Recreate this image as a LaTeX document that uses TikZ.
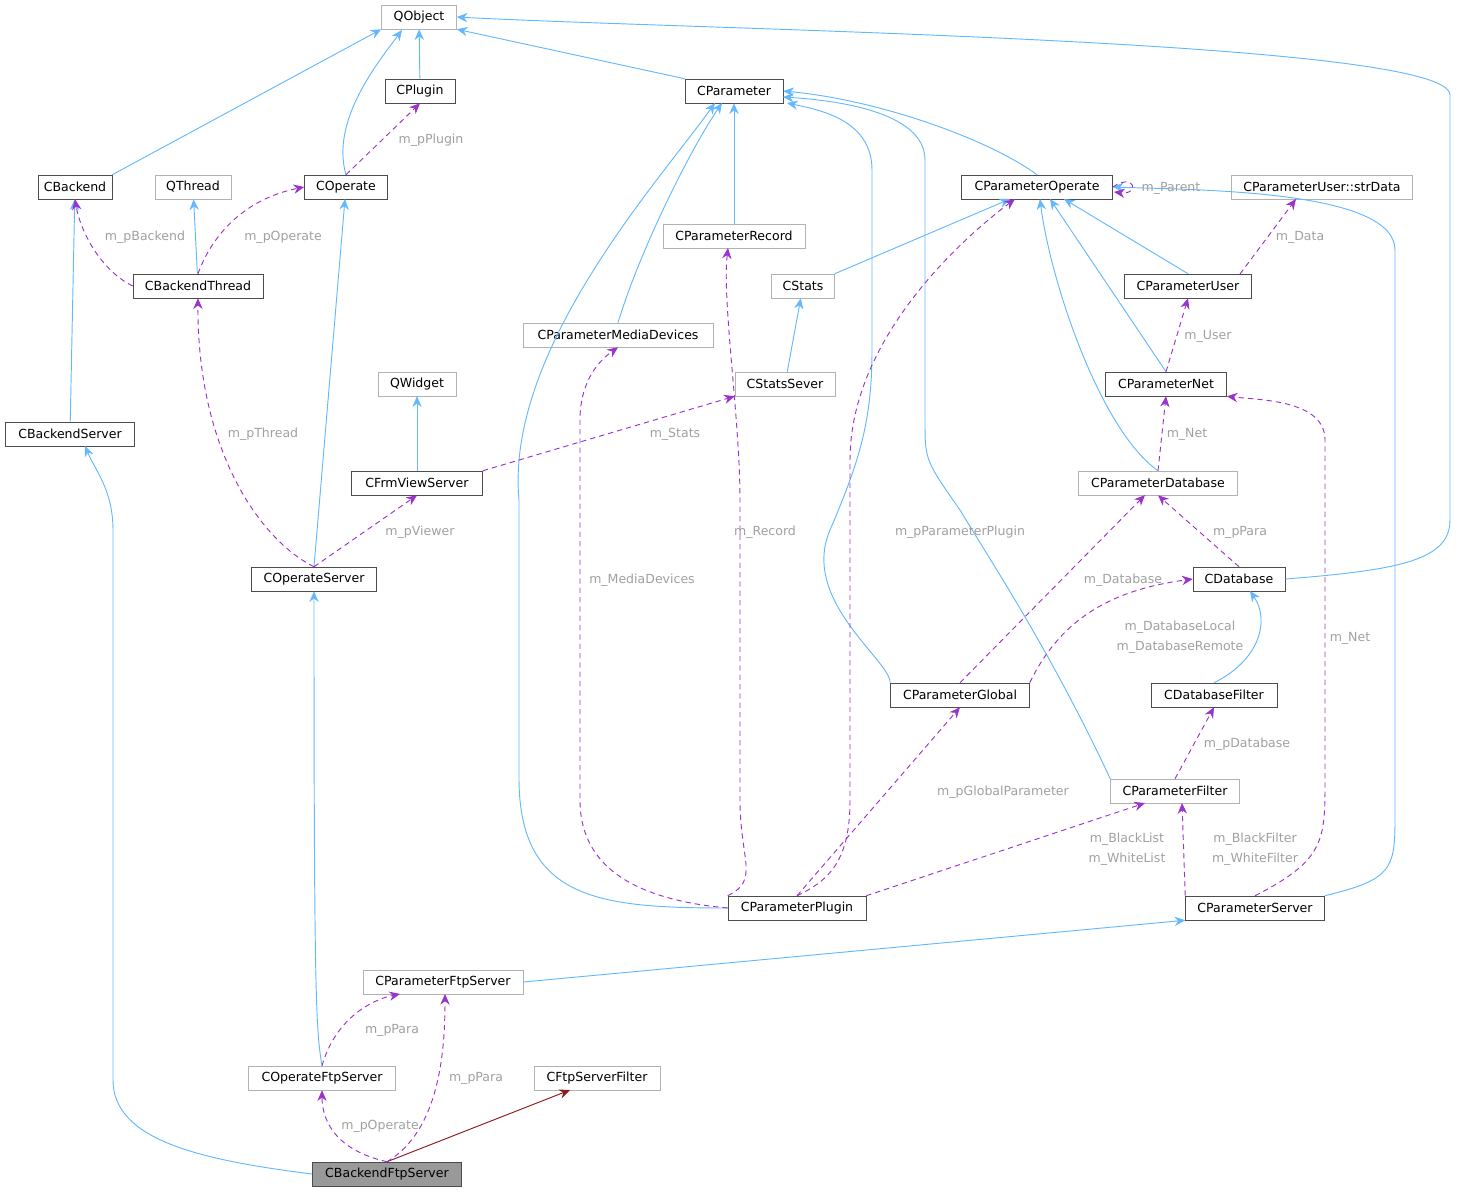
\documentclass[tikz,border=0pt]{standalone}
\usepackage{fontspec}
\setmainfont{DejaVu Sans}
\usetikzlibrary{arrows.meta}
\definecolor{inh}{HTML}{63B8FF}
\definecolor{use}{HTML}{9A32CD}
\definecolor{tmpl}{HTML}{8B1A1A}
\definecolor{lbl}{HTML}{A0A0A0}
\begin{document}
\begin{tikzpicture}[x=0.75pt,y=-0.75pt,
            font=\fontsize{9.4}{11}\selectfont,
            box/.style = {draw=black!70,fill=white,minimum height=18pt,
                inner sep=1pt,minimum width=#1*0.75pt},
            gbox/.style = {box=#1,draw=black!30},
            sel/.style = {box=#1,fill=black!40},
            isa/.style = {draw=inh,line width=0.7pt,-{Stealth[length=8pt,width=7pt]}},
            has/.style = {draw=use,line width=0.7pt,dash pattern=on 4pt off 3pt,-{Stealth[length=8pt,width=7pt]}},
            tpl/.style = {draw=tmpl,line width=0.7pt,-{Stealth[length=8pt,width=7pt]}},
            lab/.style = {text=lbl,align=center,font=\fontsize{9.4}{15}\selectfont}]
            \useasboundingbox (0,0) rectangle (1457,1193);
            % classes
            \node[gbox=75](qobject) at (419,17) {QObject};
            \node[box=70](cplugin) at (420,91) {CPlugin};
            \node[box=98](cparameter) at (734,91) {CParameter};
            \node[box=74](cbackend) at (75,187) {CBackend};
            \node[gbox=76](qthread) at (193,187) {QThread};
            \node[box=83](coperate) at (346,187) {COperate};
            \node[box=151](cparamop) at (1037,187) {CParameterOperate};
            \node[gbox=181](strdata) at (1322,187) {CParameterUser::strData};
            \node[gbox=142](cparamrec) at (734,236) {CParameterRecord};
            \node[box=130](cbackthread) at (198,286) {CBackendThread};
            \node[gbox=63](cstats) at (803,286) {CStats};
            \node[box=127](cparamuser) at (1188,286) {CParameterUser};
            \node[gbox=190](cparammedia) at (618,335) {CParameterMediaDevices};
            \node[gbox=78](qwidget) at (417,384) {QWidget};
            \node[gbox=100](cstatssever) at (785,384) {CStatsSever};
            \node[box=121](cparamnet) at (1166,384) {CParameterNet};
            \node[box=129](cbackserver) at (70,434) {CBackendServer};
            \node[box=131](cfrmview) at (417,483) {CFrmViewServer};
            \node[gbox=159](cparamdb) at (1158,483) {CParameterDatabase};
            \node[box=125](copserver) at (314,579) {COperateServer};
            \node[box=92](cdatabase) at (1239,579) {CDatabase};
            \node[box=139](cparamglobal) at (960,695) {CParameterGlobal};
            \node[box=126](cdbfilter) at (1214,695) {CDatabaseFilter};
            \node[gbox=129](cparamfilter) at (1175,791) {CParameterFilter};
            \node[box=138](cparamplugin) at (797,908) {CParameterPlugin};
            \node[box=139](cparamserver) at (1255,908) {CParameterServer};
            \node[gbox=160](cparamftp) at (443,982) {CParameterFtpServer};
            \node[gbox=147](copftp) at (322,1078) {COperateFtpServer};
            \node[gbox=126](cftpfilter) at (597,1078) {CFtpServerFilter};
            \node[sel=149](cbackftp) at (387,1174) {CBackendFtpServer};
            % inheritance
            \draw[isa] (cplugin) -- (qobject);
            \draw[isa] (cbackend.north east) -- (qobject.south west);
            \draw[isa] (coperate.north) .. controls (330,120) and (380,60) .. (402,30);
            \draw[isa] (cparameter.north west) -- (qobject.south east);
            \draw[isa] (cdatabase.east) .. controls (1400,570) and (1450,560) .. (1450,520)
                -- (1450,95) .. controls (1450,40) and (700,30) .. (qobject.east);
            \draw[isa] (cparamop.north) .. controls (990,140) and (880,100) .. (cparameter.east);
            \draw[isa] (cparamrec) -- (cparameter);
            \draw[isa] (cparammedia.north) .. controls (640,250) and (690,150) .. (722,103);
            \draw[isa] (cparamglobal.north west) .. controls (890,660) and (800,600) .. (830,530)
                .. controls (860,460) and (872,420) .. (872,350) -- (872,170)
                .. controls (872,120) and (820,110) .. (787,103);
            \draw[isa] (cparamfilter.north west) .. controls (1050,650) and (990,560) .. (960,510)
                .. controls (925,460) and (925,460) .. (925,420) -- (925,160)
                .. controls (925,110) and (830,100) .. (783,97);
            \draw[isa] (cparamplugin.west) .. controls (600,908) and (520,900) .. (519,780)
                -- (519,500) .. controls (505,350) and (660,180) .. (715,103);
            \draw[isa] (cbackthread) -- (qthread);
            \draw[isa] (cbackserver) -- (cbackend);
            \draw[isa] (cstats.north east) -- (1010,199);
            \draw[isa] (cstatssever) -- (cstats);
            \draw[isa] (cparamuser.north) -- (1064,199);
            \draw[isa] (cparamnet.north) -- (1050,199);
            \draw[isa] (cparamdb.north) .. controls (1100,430) and (1050,280) .. (1040,199);
            \draw[isa] (cfrmview) -- (qwidget);
            \draw[isa] (copserver.north) -- (345,199);
            \draw[isa] (cdbfilter.north) .. controls (1260,660) and (1270,620) .. (1250,591);
            \draw[isa] (cparamserver.north east) .. controls (1390,880) and (1395,870) .. (1395,820)
                -- (1395,250) .. controls (1395,190) and (1200,190) .. (cparamop.east);
            \draw[isa] (cparamftp.east) -- (cparamserver.south west);
            \draw[isa] (copftp.north) .. controls (316,1030) and (314,1000) .. (copserver.south);
            \draw[isa] (cbackftp.west) .. controls (200,1160) and (113,1140) .. (113,1080)
                -- (113,530) .. controls (113,490) and (95,470) .. (85,446);
            \draw[tpl] (cbackftp.north) -- (570,1090);
            % usage
            \draw[has] (coperate.north) -- (cplugin.south);
            \node[lab] (lplugin) at (431,140) {m\_pPlugin};
            \draw[has] (cbackthread.west) .. controls (100,270) and (80,230) .. (cbackend.south);
            \node[lab] (lbackend) at (145,237) {m\_pBackend};
            \draw[has] (cbackthread.north) .. controls (210,240) and (240,200) .. (coperate.west);
            \node[lab] (loperate) at (283,237) {m\_pOperate};
            \draw[has] (cparamop.east) .. controls (1135,172) and (1140,195) .. (1114,192);
            \node[lab] (lparent) at (1171,188) {m\_Parent};
            \draw[has] (1240,274) -- (1296,199);
            \node[lab] (ldata) at (1300,237) {m\_Data};
            \draw[has] (cparamnet.north) -- (cparamuser.south);
            \node[lab] (luser) at (1208,336) {m\_User};
            \draw[has] (copserver.north) .. controls (260,540) and (197,450) .. (cbackthread.south);
            \node[lab] (lthread) at (263,434) {m\_pThread};
            \draw[has] (cfrmview.north east) -- (cstatssever.south west);
            \node[lab] (lstats) at (675,434) {m\_Stats};
            \draw[has] (copserver.north) -- (cfrmview.south);
            \node[lab] (lviewer) at (420,532) {m\_pViewer};
            \draw[has] (cparamdb.north) -- (cparamnet.south);
            \node[lab] (lnetdb) at (1187,434) {m\_Net};
            \draw[has] (cdatabase.north) -- (cparamdb.south);
            \node[lab] (lpara) at (1240,532) {m\_pPara};
            \draw[has] (cparamglobal.north) -- (1145,495);
            \node[lab] (ldatabase) at (1123,580) {m\_Database};
            \draw[has] (cparamglobal.north east) .. controls (1060,620) and (1110,590) .. (cdatabase.west);
            \node[lab] (ldblocal) at (1180,637) {m\_DatabaseLocal\\m\_DatabaseRemote};
            \draw[has] (cparamfilter.north) -- (cdbfilter.south);
            \node[lab] (lpdatabase) at (1247,744) {m\_pDatabase};
            \draw[has] (cparamplugin.west) .. controls (640,900) and (580,870) .. (580,800)
                -- (580,420) .. controls (580,380) and (600,360) .. (cparammedia.south);
            \node[lab] (lmedia) at (642,580) {m\_MediaDevices};
            \draw[has] (cparamplugin.north west) .. controls (760,880) and (740,860) .. (740,800)
                -- (740,500) .. controls (740,420) and (722,300) .. (728,248);
            \node[lab] (lrecord) at (765,532) {m\_Record};
            \draw[has] (cparamplugin.north) .. controls (830,880) and (850,860) .. (850,800)
                -- (850,460) .. controls (850,340) and (960,240) .. (1015,199);
            \node[lab] (lpplugin) at (960,532) {m\_pParameterPlugin};
            \draw[has] (cparamplugin.north) -- (cparamglobal.south);
            \node[lab] (lglobal) at (1003,792) {m\_pGlobalParameter};
            \draw[has] (cparamplugin.north east) -- (1145,803);
            \node[lab] (llist) at (1127,849) {m\_BlackList\\m\_WhiteList};
            \draw[has] (cparamserver.north west) -- (1182,803);
            \node[lab] (lfilter) at (1255,849) {m\_BlackFilter\\m\_WhiteFilter};
            \draw[has] (cparamserver.north) .. controls (1325,860) and (1325,840) .. (1325,780)
                -- (1325,440) .. controls (1325,400) and (1260,400) .. (cparamnet.south east);
            \node[lab] (lnet) at (1350,638) {m\_Net};
            \draw[has] (copftp.north) .. controls (335,1020) and (370,1000) .. (400,994);
            \node[lab] (lftppara) at (392,1030) {m\_pPara};
            \draw[has] (cbackftp.north) .. controls (440,1130) and (445,1050) .. (445,994);
            \node[lab] (lbackpara) at (476,1078) {m\_pPara};
            \draw[has] (cbackftp.north) .. controls (335,1150) and (322,1120) .. (copftp.south);
            \node[lab] (lboperate) at (380,1126) {m\_pOperate};
        \end{tikzpicture}
\end{document}
